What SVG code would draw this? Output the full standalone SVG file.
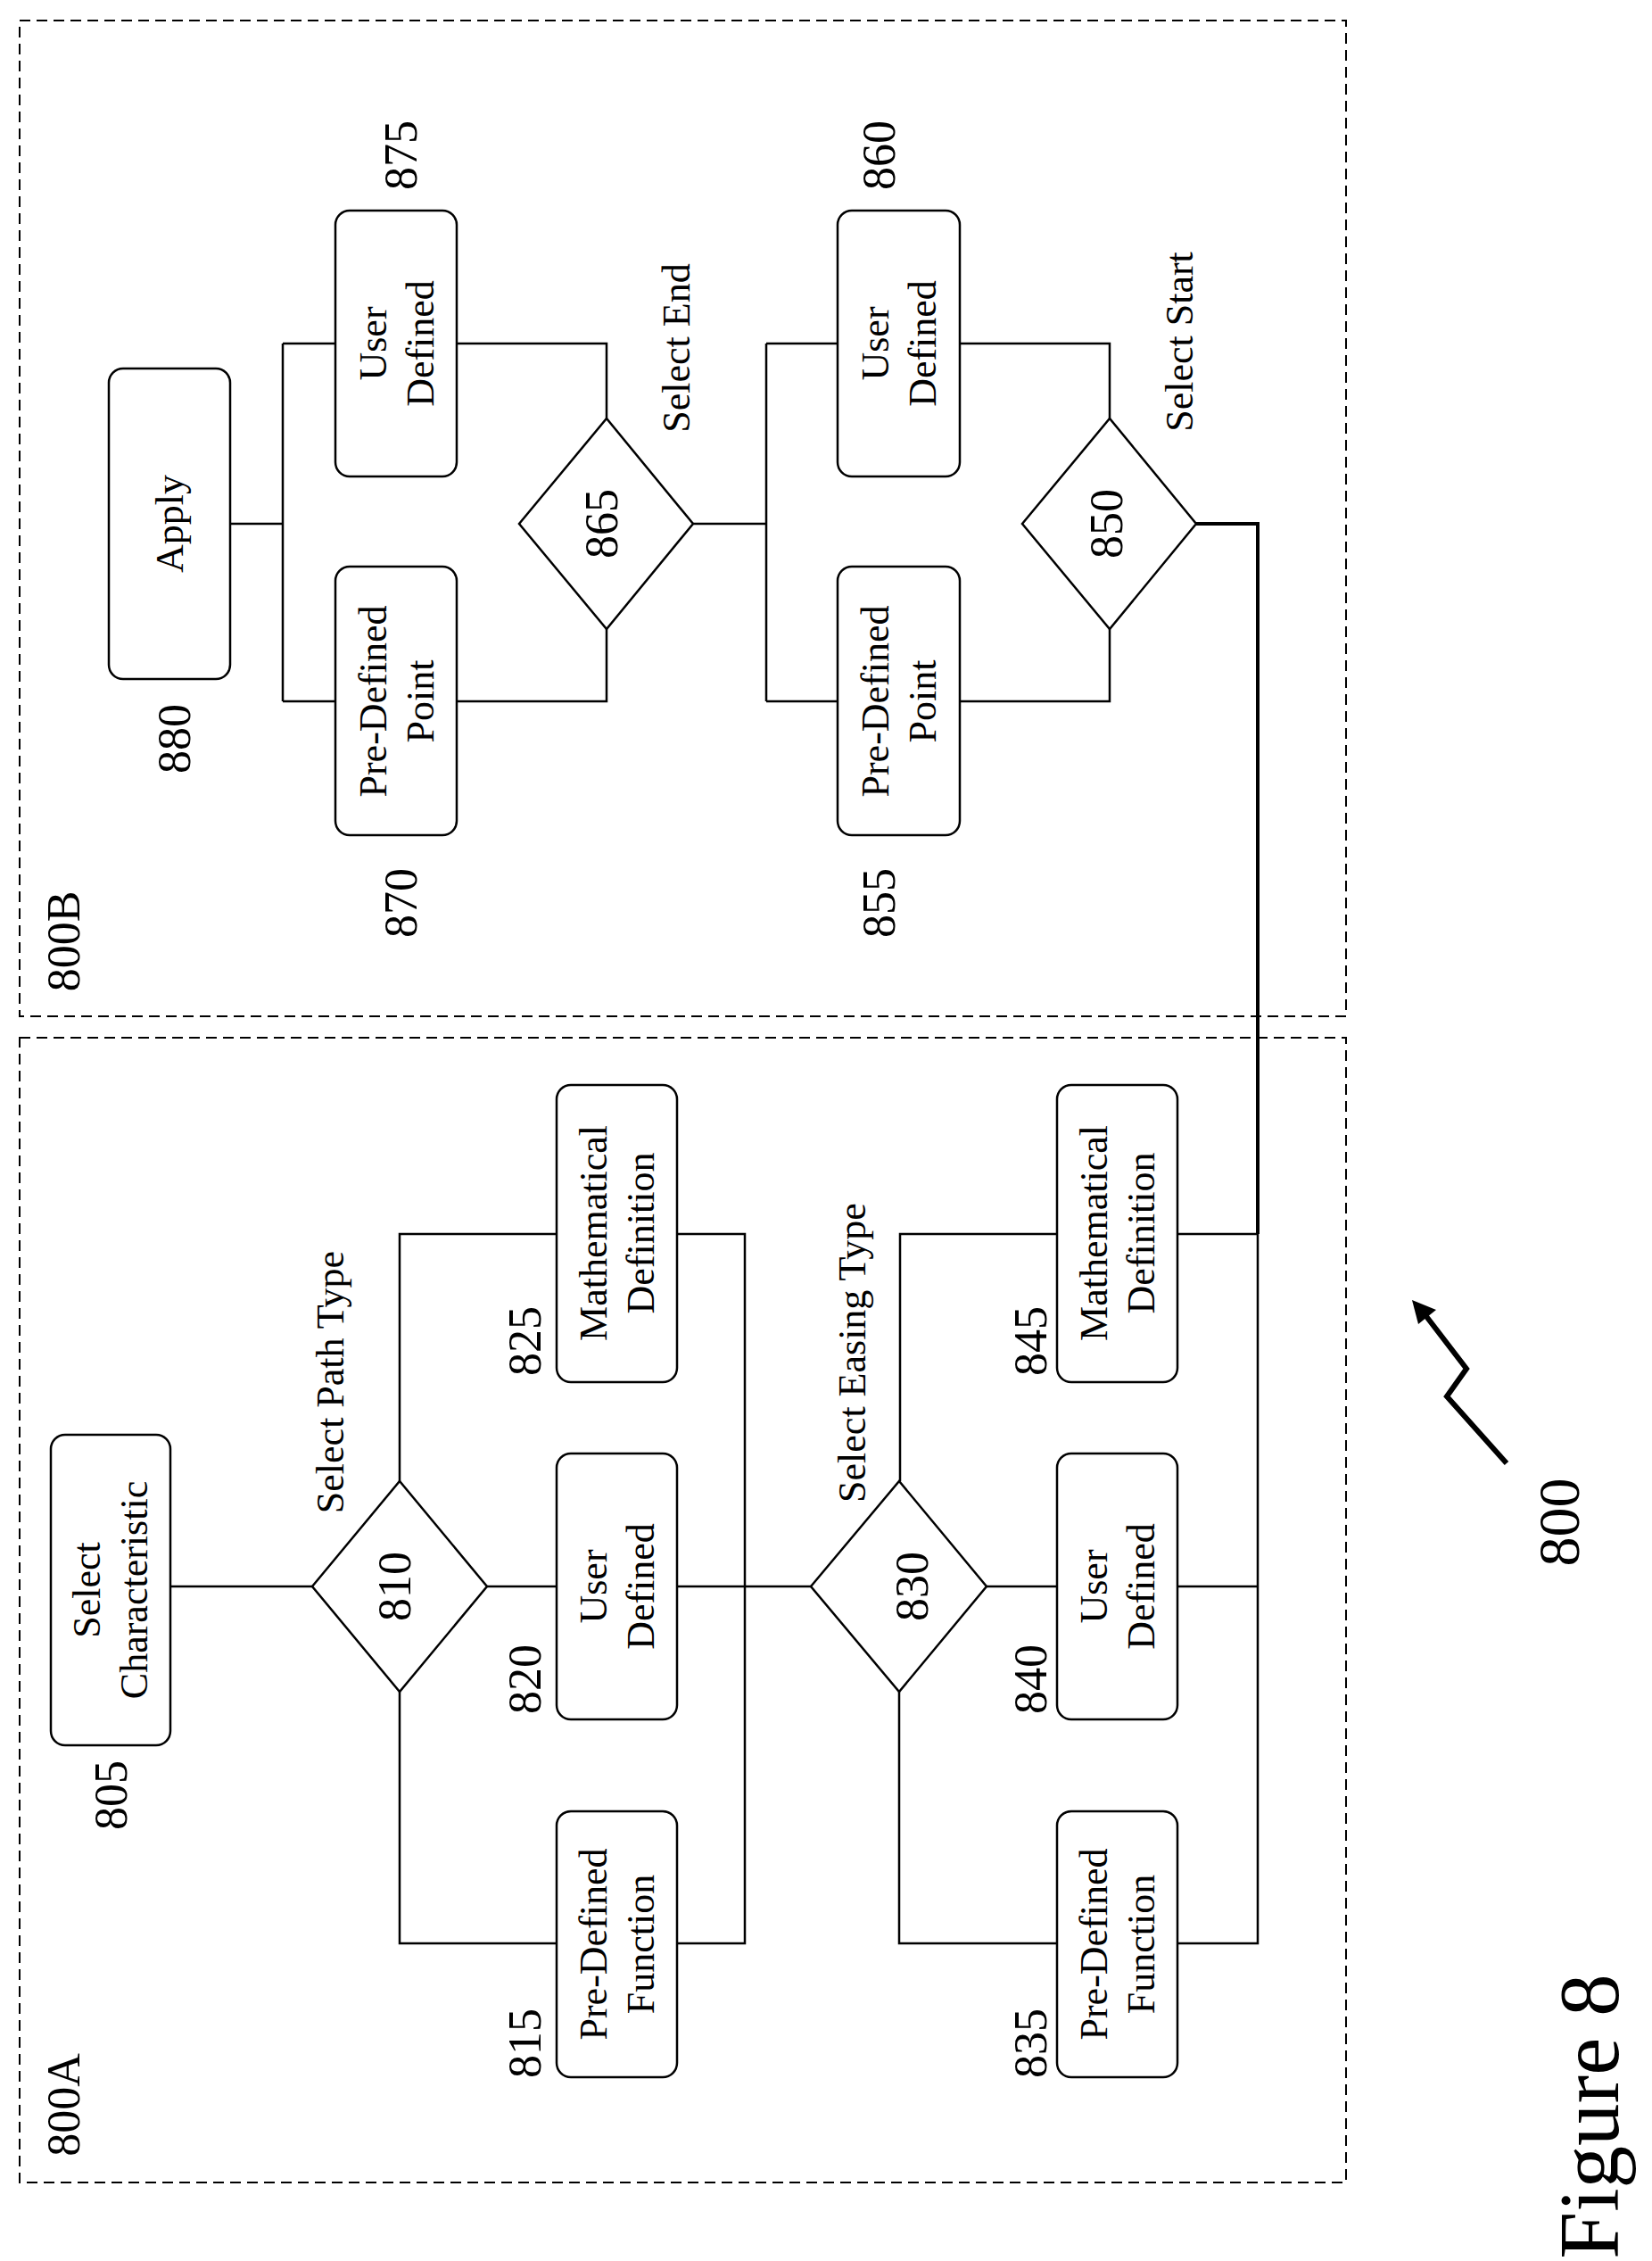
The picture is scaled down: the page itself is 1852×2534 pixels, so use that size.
<svg xmlns="http://www.w3.org/2000/svg" width="1852" height="2534" viewBox="0 0 1852 2534">
<style>
.b{fill:#fff;stroke:#000;stroke-width:2.5}
.d{fill:none;stroke:#000;stroke-width:2;stroke-dasharray:12 7}
.c{fill:none;stroke:#000;stroke-width:2.5}
text{font-family:"Liberation Serif","Times New Roman",serif;fill:#000;text-anchor:middle;dominant-baseline:central}
.t{font-size:44px}
.n{font-size:52px}
</style>
<rect width="1852" height="2534" fill="#fff"/>
<rect id="box800B" class="d" x="22" y="23" width="1487" height="1116"/>
<rect id="box800A" class="d" x="22" y="1163" width="1487" height="1283"/>
<g id="connectors">
<path class="c" d="M191 1778H350M546 1778H624M759 1778H909M448 1660V1383H624M759 1383H835V2178H759M624 2178H448V1896"/>
<path class="c" d="M1106 1778H1185M1009 1660V1383H1185M1320 1383H1410M1320 1778H1410M1410 1383V2178H1320M1185 2178H1008V1896"/>
<path class="c" d="M258 587H317M317 385V786M317 385H376M317 786H376M512 385H680V469M512 786H680V705M777 587H859M859 385V786M859 385H939M859 786H939M1076 385H1244V469M1076 786H1244V705"/>
<path fill="none" stroke="#000" stroke-width="4" d="M1341 587H1410V1383"/>
</g>
<g id="n805"><rect class="b" x="57" y="1608" width="134" height="348" rx="16"/><text class="t" transform="translate(97 1782) rotate(-90)">Select</text><text class="t" transform="translate(150 1782) rotate(-90)">Characteristic</text><text class="n" transform="translate(124 2012) rotate(-90)">805</text></g>
<g id="n810"><polygon class="b" points="350,1778 448,1660 546,1778 448,1896"/><text class="n" transform="translate(442 1778) rotate(-90)">810</text><text class="t" transform="translate(370 1549) rotate(-90)">Select Path Type</text></g>
<g id="n815"><rect class="b" x="624" y="2030" width="135" height="298" rx="16"/><text class="t" transform="translate(665 2179) rotate(-90)">Pre-Defined</text><text class="t" transform="translate(718 2179) rotate(-90)">Function</text><text class="n" transform="translate(588 2290) rotate(-90)">815</text></g>
<g id="n820"><rect class="b" x="624" y="1629" width="135" height="298" rx="16"/><text class="t" transform="translate(665 1778) rotate(-90)">User</text><text class="t" transform="translate(718 1778) rotate(-90)">Defined</text><text class="n" transform="translate(588 1882) rotate(-90)">820</text></g>
<g id="n825"><rect class="b" x="624" y="1216" width="135" height="333" rx="16"/><text class="t" transform="translate(665 1382) rotate(-90)">Mathematical</text><text class="t" transform="translate(718 1382) rotate(-90)">Definition</text><text class="n" transform="translate(588 1503) rotate(-90)">825</text></g>
<g id="n830"><polygon class="b" points="909,1778 1008,1660 1106,1778 1008,1896"/><text class="n" transform="translate(1022 1778) rotate(-90)">830</text><text class="t" transform="translate(955 1516) rotate(-90)">Select Easing Type</text></g>
<g id="n835"><rect class="b" x="1185" y="2030" width="135" height="298" rx="16"/><text class="t" transform="translate(1226 2179) rotate(-90)">Pre-Defined</text><text class="t" transform="translate(1279 2179) rotate(-90)">Function</text><text class="n" transform="translate(1155 2290) rotate(-90)">835</text></g>
<g id="n840"><rect class="b" x="1185" y="1629" width="135" height="298" rx="16"/><text class="t" transform="translate(1226 1778) rotate(-90)">User</text><text class="t" transform="translate(1279 1778) rotate(-90)">Defined</text><text class="n" transform="translate(1155 1882) rotate(-90)">840</text></g>
<g id="n845"><rect class="b" x="1185" y="1216" width="135" height="333" rx="16"/><text class="t" transform="translate(1226 1382) rotate(-90)">Mathematical</text><text class="t" transform="translate(1279 1382) rotate(-90)">Definition</text><text class="n" transform="translate(1155 1503) rotate(-90)">845</text></g>
<g id="n850"><polygon class="b" points="1146,587 1244,469 1341,587 1244,705"/><text class="n" transform="translate(1240 587) rotate(-90)">850</text><text class="t" transform="translate(1322 383) rotate(-90)">Select Start</text></g>
<g id="n855"><rect class="b" x="939" y="635" width="137" height="301" rx="16"/><text class="t" transform="translate(981 786) rotate(-90)">Pre-Defined</text><text class="t" transform="translate(1034 786) rotate(-90)">Point</text><text class="n" transform="translate(985 1012) rotate(-90)">855</text></g>
<g id="n860"><rect class="b" x="939" y="236" width="137" height="298" rx="16"/><text class="t" transform="translate(981 385) rotate(-90)">User</text><text class="t" transform="translate(1034 385) rotate(-90)">Defined</text><text class="n" transform="translate(985 174) rotate(-90)">860</text></g>
<g id="n865"><polygon class="b" points="582,587 680,469 777,587 680,705"/><text class="n" transform="translate(674 587) rotate(-90)">865</text><text class="t" transform="translate(758 390) rotate(-90)">Select End</text></g>
<g id="n870"><rect class="b" x="376" y="635" width="136" height="301" rx="16"/><text class="t" transform="translate(418 786) rotate(-90)">Pre-Defined</text><text class="t" transform="translate(471 786) rotate(-90)">Point</text><text class="n" transform="translate(449 1012) rotate(-90)">870</text></g>
<g id="n875"><rect class="b" x="376" y="236" width="136" height="298" rx="16"/><text class="t" transform="translate(418 385) rotate(-90)">User</text><text class="t" transform="translate(471 385) rotate(-90)">Defined</text><text class="n" transform="translate(449 174) rotate(-90)">875</text></g>
<g id="n880"><rect class="b" x="122" y="413" width="136" height="348" rx="16"/><text class="t" transform="translate(190 587) rotate(-90)">Apply</text><text class="n" transform="translate(195 828) rotate(-90)">880</text></g>
<text class="n" transform="translate(71 2359) rotate(-90)">800A</text>
<text class="n" transform="translate(71 1055) rotate(-90)">800B</text>
<g id="ref800"><polyline fill="none" stroke="#000" stroke-width="6" points="1689,1640 1622,1565 1644,1534 1598,1474"/><polygon points="1583,1457 1610,1468 1590,1484"/><text style="font-size:66px" transform="translate(1747 1706) rotate(-90)">800</text></g>
<text style="font-size:95px" transform="translate(1782 2372) rotate(-90)">Figure 8</text>
</svg>
